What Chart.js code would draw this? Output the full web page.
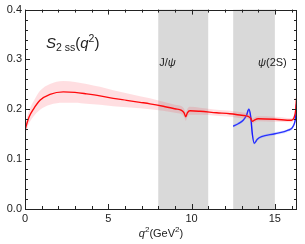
<!DOCTYPE html>
<html>
<head>
<meta charset="utf-8">
<script src="https://cdn.jsdelivr.net/npm/chart.js@4.4.1/dist/chart.umd.min.js"></script>
<style>
  html, body { margin: 0; padding: 0; background: #fff; }
  #wrap { width: 305px; height: 244px; }
</style>
</head>
<body>
<div id="wrap"><canvas id="c" width="305" height="244"></canvas></div>
<script>
// ---------------- data ----------------
const qRed    = [0, 0.1, 0.25, 0.5, 0.9, 1.5, 2.3, 3.0, 3.7, 4.5, 5.3, 6.1, 6.9, 7.5, 8.3, 9.0, 9.4, 9.55, 9.65, 9.75, 9.9, 10.5, 11.5, 12.3, 13.0, 13.4, 13.55, 13.65, 13.8, 14.0, 15.0, 16.0, 16.15, 16.25, 16.3];
const s2Red   = [0.158, 0.170, 0.185, 0.200, 0.218, 0.230, 0.235, 0.234, 0.231, 0.227, 0.222, 0.218, 0.214, 0.211, 0.206, 0.201, 0.198, 0.193, 0.185, 0.193, 0.197, 0.196, 0.193, 0.191, 0.188, 0.186, 0.182, 0.176, 0.179, 0.181, 0.180, 0.178, 0.183, 0.198, 0.222];
const s2RedLo = [0.148, 0.159, 0.172, 0.185, 0.199, 0.209, 0.213, 0.213, 0.211, 0.209, 0.206, 0.204, 0.202, 0.200, 0.197, 0.193, 0.190, 0.185, 0.177, 0.185, 0.189, 0.189, 0.187, 0.185, 0.182, 0.181, 0.177, 0.171, 0.174, 0.176, 0.175, 0.174, 0.179, 0.194, 0.218];
const s2RedHi = [0.168, 0.181, 0.198, 0.215, 0.237, 0.251, 0.257, 0.255, 0.251, 0.245, 0.238, 0.232, 0.226, 0.222, 0.215, 0.209, 0.206, 0.201, 0.193, 0.201, 0.205, 0.203, 0.199, 0.197, 0.194, 0.191, 0.187, 0.181, 0.184, 0.186, 0.185, 0.182, 0.187, 0.202, 0.226];

const qBlue    = [12.5, 12.8, 13.1, 13.3, 13.44, 13.55, 13.65, 13.76, 13.95, 14.2, 15.0, 15.8, 16.1, 16.25, 16.3];
const s2Blue   = [0.166, 0.171, 0.178, 0.188, 0.200, 0.185, 0.150, 0.132, 0.140, 0.145, 0.151, 0.158, 0.166, 0.185, 0.210];
const s2BlueLo = [0.163, 0.168, 0.175, 0.185, 0.197, 0.182, 0.147, 0.129, 0.137, 0.142, 0.148, 0.155, 0.163, 0.182, 0.207];
const s2BlueHi = [0.169, 0.174, 0.181, 0.191, 0.203, 0.188, 0.153, 0.135, 0.143, 0.148, 0.154, 0.161, 0.169, 0.188, 0.213];

const vetoFrom   = [8.0, 12.5];
const vetoTo     = [11.0, 15.0];
const vetoLabels = ['J/ψ', 'ψ(2S)'];

const xMin = 0, xMax = 16.33, xMajor = 5, xMinor = 1;
const yMin = 0, yMax = 0.4, yMajor = 0.1, yMinor = 0.02;
const yTickLabels = ['0.0', '0.1', '0.2', '0.3', '0.4'];
const xTickLabels = ['0', '5', '10', '15'];

// ---------------- helpers ----------------
const pts = (xs, ys) => xs.map((x, i) => ({ x: x, y: ys[i] }));
const FONT = '"Liberation Sans", Arial, sans-serif';
const TXT = '#222';

const bandsPlugin = {
  id: 'vetoBands',
  beforeDatasetsDraw(chart) {
    const { ctx, chartArea: a, scales: { x } } = chart;
    ctx.save();
    ctx.fillStyle = '#d9d9d9';
    for (let i = 0; i < vetoFrom.length; i++) {
      const x0 = x.getPixelForValue(vetoFrom[i]);
      const x1 = x.getPixelForValue(vetoTo[i]);
      ctx.fillRect(x0, a.top, x1 - x0, a.bottom - a.top);
    }
    ctx.restore();
  }
};

function richWidth(ctx, parts) {
  let w = 0;
  for (const p of parts) {
    ctx.font = (p.italic ? 'italic ' : '') + p.size + 'px ' + FONT;
    w += ctx.measureText(p.t).width;
  }
  return w;
}
function drawRich(ctx, parts, x, y) {
  let cx = x;
  for (const p of parts) {
    ctx.font = (p.italic ? 'italic ' : '') + p.size + 'px ' + FONT;
    ctx.fillText(p.t, cx, y + (p.dy || 0));
    cx += ctx.measureText(p.t).width;
  }
}

const framePlugin = {
  id: 'frameTicks',
  afterDraw(chart) {
    const { ctx, chartArea: a, scales: { x, y } } = chart;
    ctx.save();
    ctx.strokeStyle = '#222';
    ctx.lineWidth = 1;
    ctx.beginPath();
    for (let v = xMin; v <= xMax + 1e-9; v += xMinor) {
      const px = Math.round(x.getPixelForValue(v)) + 0.5;
      const major = Math.abs(v / xMajor - Math.round(v / xMajor)) < 1e-6;
      const len = major ? 5 : 3;
      ctx.moveTo(px, a.bottom); ctx.lineTo(px, a.bottom - len);
      ctx.moveTo(px, a.top); ctx.lineTo(px, a.top + len);
    }
    for (let k = 0; k <= Math.round((yMax - yMin) / yMinor); k++) {
      const v = yMin + k * yMinor;
      const py = Math.round(y.getPixelForValue(v)) + 0.5;
      const major = k % Math.round(yMajor / yMinor) === 0;
      const len = major ? 5 : 3;
      ctx.moveTo(a.left, py); ctx.lineTo(a.left + len, py);
      ctx.moveTo(a.right, py); ctx.lineTo(a.right - len, py);
    }
    ctx.stroke();
    ctx.strokeRect(Math.round(a.left) + 0.5, Math.round(a.top) + 0.5,
                   Math.round(a.right - a.left) - 1, Math.round(a.bottom - a.top));
    ctx.fillStyle = TXT;
    ctx.textBaseline = 'alphabetic';
    ctx.textAlign = 'left';
    // panel label
    drawRich(ctx, [
      { t: 'S', italic: true, size: 15 },
      { t: '2 ss', size: 10.5, dy: 3 },
      { t: '(', size: 15 },
      { t: 'q', italic: true, size: 15 },
      { t: '2', size: 10.5, dy: -6 },
      { t: ')', size: 15 }
    ], a.left + 21, a.top + 38);
    // resonance labels
    const j0 = x.getPixelForValue(vetoFrom[0]);
    drawRich(ctx, [
      { t: 'J/', size: 11 },
      { t: 'ψ', italic: true, size: 11 }
    ], j0 + 1, a.top + 56);
    drawRich(ctx, [
      { t: 'ψ', italic: true, size: 11 },
      { t: '(2S)', size: 11 }
    ], a.right - 39, a.top + 56);
    // x-axis title
    const tparts = [
      { t: 'q', italic: true, size: 11 },
      { t: '2', size: 8, dy: -5 },
      { t: '(GeV', size: 11 },
      { t: '2', size: 8, dy: -5 },
      { t: ')', size: 11 }
    ];
    const tw = richWidth(ctx, tparts);
    drawRich(ctx, tparts, (a.left + a.right) / 2 - tw / 2, 237);
    ctx.restore();
  }
};

const common = { pointRadius: 0, pointHoverRadius: 0, cubicInterpolationMode: 'monotone' };

new Chart(document.getElementById('c'), {
  type: 'line',
  data: {
    datasets: [
      Object.assign({ data: pts(qRed, s2RedLo), borderWidth: 0, borderColor: 'rgba(0,0,0,0)', fill: false }, common),
      Object.assign({ data: pts(qRed, s2RedHi), borderWidth: 0, borderColor: 'rgba(0,0,0,0)', fill: '-1', backgroundColor: 'rgba(255,60,80,0.17)' }, common),
      Object.assign({ data: pts(qBlue, s2BlueLo), borderWidth: 0, borderColor: 'rgba(0,0,0,0)', fill: false }, common),
      Object.assign({ data: pts(qBlue, s2BlueHi), borderWidth: 0, borderColor: 'rgba(0,0,0,0)', fill: '-1', backgroundColor: 'rgba(120,150,255,0.25)' }, common),
      Object.assign({ data: pts(qRed, s2Red), borderWidth: 1.4, borderColor: '#ff0000', fill: false }, common),
      Object.assign({ data: pts(qBlue, s2Blue), borderWidth: 1.4, borderColor: '#1010ff', fill: false }, common)
    ]
  },
  options: {
    responsive: false,
    animation: false,
    devicePixelRatio: 1,
    layout: { padding: { top: 5, right: 8, left: 0, bottom: 0 } },
    plugins: { legend: { display: false }, tooltip: { enabled: false } },
    scales: {
      x: {
        type: 'linear', min: xMin, max: xMax,
        grid: { display: false, drawTicks: false },
        border: { display: false },
        afterBuildTicks(s) { s.ticks = xTickLabels.map(t => ({ value: Number(t) })); },
        afterFit(s) { s.height = 35; },
        ticks: {
          padding: 3, color: TXT, font: { family: FONT, size: 11 }, maxRotation: 0,
          callback: (v) => xTickLabels.find(t => Number(t) === v) || ''
        },
        title: { display: false }
      },
      y: {
        type: 'linear', min: yMin, max: yMax,
        grid: { display: false, drawTicks: false },
        border: { display: false },
        afterBuildTicks(s) { s.ticks = yTickLabels.map(t => ({ value: Number(t) })); },
        afterFit(s) { s.width = 25; },
        ticks: {
          padding: 3, color: TXT, font: { family: FONT, size: 11 },
          callback: (v) => yTickLabels.find(t => Math.abs(Number(t) - v) < 1e-9) || ''
        }
      }
    }
  },
  plugins: [bandsPlugin, framePlugin]
});
</script>
</body>
</html>
